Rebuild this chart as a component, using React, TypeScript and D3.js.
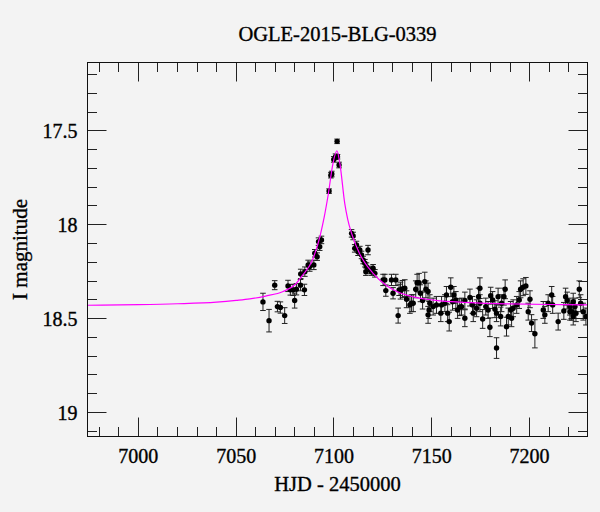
import React from 'react';
import * as d3 from 'd3';

const TITLE = 'OGLE-2015-BLG-0339';
const X_LABEL = 'HJD - 2450000';
const Y_LABEL = 'I magnitude';

const X_MAJOR = [7000, 7050, 7100, 7150, 7200];
const Y_MAJOR = [17.5, 18, 18.5, 19];

// model light curve
const modelHjd = [6974, 7000, 7020, 7040, 7050, 7057, 7065, 7074, 7080, 7084, 7089, 7093, 7095, 7097, 7099.5, 7101.5,
    7103, 7105.5, 7107, 7109, 7113, 7120, 7127, 7133, 7140, 7150, 7160, 7175, 7190, 7210, 7229.6];
const modelMag = [18.429, 18.426, 18.421, 18.412, 18.403, 18.395, 18.38, 18.356, 18.32, 18.268, 18.188, 18.055, 17.96,
    17.843, 17.673, 17.606, 17.673, 17.886, 17.97, 18.046, 18.152, 18.259, 18.325, 18.36, 18.383, 18.4, 18.41, 18.418,
    18.422, 18.425, 18.427];

// [HJD - 2450000, I mag, error]
const observations: [number, number, number][] = [
    [7063.7, 18.411, 0.046], [7066.8, 18.511, 0.06], [7069.7, 18.322, 0.024], [7071.1, 18.436, 0.028],
    [7072.6, 18.441, 0.03], [7074.8, 18.484, 0.042], [7076.5, 18.326, 0.03], [7077.7, 18.347, 0.028],
    [7079.1, 18.347, 0.03], [7079.9, 18.404, 0.04], [7080.8, 18.344, 0.03], [7082.9, 18.322, 0.03],
    [7083.0, 18.262, 0.025], [7084.9, 18.347, 0.03], [7085.1, 18.25, 0.025], [7086.8, 18.214, 0.025],
    [7087.6, 18.223, 0.025], [7089.7, 18.214, 0.025], [7090.2, 18.152, 0.02], [7091.4, 18.17, 0.02],
    [7092.1, 18.09, 0.02], [7092.7, 18.117, 0.02], [7093.6, 18.081, 0.02],
    [7097.5, 17.821, 0.012], [7098.4, 17.736, 0.015], [7098.9, 17.73, 0.015], [7099.9, 17.652, 0.015],
    [7100.8, 17.638, 0.015], [7101.6, 17.556, 0.012], [7101.8, 17.638, 0.012], [7102.6, 17.682, 0.015],
    [7109.0, 18.046, 0.02], [7109.8, 18.06, 0.02], [7110.6, 18.126, 0.02], [7111.5, 18.108, 0.02],
    [7112.3, 18.144, 0.02], [7113.2, 18.135, 0.02], [7114.1, 18.161, 0.02], [7114.9, 18.188, 0.02],
    [7115.8, 18.205, 0.02], [7116.3, 18.25, 0.02], [7116.6, 18.223, 0.02], [7117.4, 18.135, 0.025],
    [7118.3, 18.241, 0.02], [7119.2, 18.25, 0.02], [7120.0, 18.232, 0.02], [7120.9, 18.259, 0.02],
    [7125.1, 18.294, 0.03], [7126.0, 18.294, 0.03], [7126.5, 18.351, 0.03], [7129.4, 18.294, 0.03],
    [7130.2, 18.365, 0.03], [7131.6, 18.294, 0.03], [7132.8, 18.484, 0.04], [7133.3, 18.347, 0.03],
    [7134.0, 18.351, 0.045], [7135.0, 18.342, 0.045], [7136.2, 18.338, 0.045], [7137.1, 18.397, 0.045],
    [7138.8, 18.427, 0.045], [7139.6, 18.418, 0.045], [7140.5, 18.418, 0.045], [7141.8, 18.344, 0.045],
    [7142.5, 18.309, 0.045], [7143.5, 18.309, 0.05], [7144.2, 18.365, 0.045], [7145.3, 18.404, 0.045],
    [7146.4, 18.303, 0.05], [7147.0, 18.344, 0.045], [7148.1, 18.356, 0.045], [7148.1, 18.48, 0.045],
    [7148.6, 18.454, 0.045], [7149.0, 18.418, 0.045], [7150.7, 18.436, 0.045], [7152.4, 18.427, 0.045],
    [7154.6, 18.471, 0.045], [7155.0, 18.427, 0.045], [7156.7, 18.418, 0.045], [7157.5, 18.374, 0.045],
    [7158.1, 18.471, 0.045], [7158.9, 18.516, 0.05], [7159.7, 18.333, 0.05], [7160.6, 18.41, 0.045],
    [7161.3, 18.374, 0.045], [7162.3, 18.401, 0.045], [7163.2, 18.454, 0.045], [7164.3, 18.439, 0.045],
    [7165.2, 18.436, 0.045], [7166.9, 18.498, 0.045], [7166.9, 18.404, 0.045], [7169.5, 18.388, 0.045],
    [7170.8, 18.427, 0.045], [7171.2, 18.471, 0.045], [7172.9, 18.445, 0.045], [7173.9, 18.383, 0.045],
    [7174.6, 18.338, 0.055], [7174.6, 18.418, 0.045], [7176.0, 18.502, 0.05], [7177.6, 18.436, 0.045],
    [7178.8, 18.454, 0.045], [7179.7, 18.546, 0.05], [7180.1, 18.378, 0.045], [7181.1, 18.401, 0.045],
    [7182.3, 18.45, 0.045], [7183.1, 18.657, 0.055], [7183.1, 18.471, 0.045], [7183.9, 18.383, 0.045],
    [7185.2, 18.489, 0.05], [7185.7, 18.418, 0.045], [7186.9, 18.383, 0.045], [7187.5, 18.344, 0.05],
    [7188.2, 18.543, 0.05], [7189.1, 18.489, 0.045], [7190.3, 18.454, 0.045], [7190.8, 18.498, 0.045],
    [7191.6, 18.445, 0.045], [7193.4, 18.427, 0.045], [7194.7, 18.401, 0.045], [7195.4, 18.344, 0.045],
    [7196.7, 18.333, 0.045], [7198.1, 18.326, 0.045], [7199.3, 18.463, 0.045], [7200.2, 18.397, 0.045],
    [7201.0, 18.524, 0.045], [7202.7, 18.581, 0.075], [7207.0, 18.454, 0.045], [7207.8, 18.48, 0.045],
    [7209.5, 18.418, 0.045], [7211.3, 18.374, 0.045], [7211.8, 18.427, 0.045], [7214.6, 18.516, 0.045],
    [7217.5, 18.459, 0.045], [7218.4, 18.383, 0.045], [7219.2, 18.404, 0.045], [7220.6, 18.436, 0.045],
    [7220.6, 18.463, 0.045], [7221.5, 18.463, 0.045], [7222.3, 18.41, 0.045], [7222.3, 18.489, 0.045],
    [7223.2, 18.436, 0.045], [7223.7, 18.471, 0.045], [7225.4, 18.344, 0.045], [7226.1, 18.418, 0.045],
    [7227.4, 18.463, 0.045], [7228.8, 18.489, 0.045],
];

const width = 600;
const height = 512;
const plot = { left: 87.5, right: 587.5, top: 62.5, bottom: 436.5 };
const FONT = '"Liberation Serif", "Times New Roman", serif';

const crisp = (v: number) => Math.round(v - 0.5) + 0.5;

const App: React.FC = () => {
    const x = d3.scaleLinear().domain([6974, 7229.6]).range([plot.left, plot.right]);
    const y = d3.scaleLinear().domain([17.136, 19.128]).range([plot.top, plot.bottom]);

    const xMinor = d3.range(6980, 7221, 10).filter(v => !X_MAJOR.includes(v));
    const yMinor = d3.range(17.2, 19.15, 0.1).map(v => +v.toFixed(1)).filter(v => !Y_MAJOR.includes(v));

    const modelLine = d3.line<number>()
        .x((_, i) => x(modelHjd[i]))
        .y(d => y(d))
        .curve(d3.curveMonotoneX);

    const major = 19;
    const minor = 9.5;
    const textStyle = { fill: '#000', stroke: '#000', strokeWidth: 0.35 };

    return (
        <svg width={width} height={height} style={{ position: 'absolute', left: 0, top: 0, background: '#f3f3f3' }}
            fontFamily={FONT}>
            <defs>
                <clipPath id="plotClip">
                    <rect x={plot.left} y={plot.top} width={plot.right - plot.left} height={plot.bottom - plot.top} />
                </clipPath>
            </defs>

            <text x={(plot.left + plot.right) / 2} y={40.7} textAnchor="middle" fontSize="20.5px" {...textStyle}>{TITLE}</text>

            {/* ticks, all four sides pointing inward */}
            <g stroke="#222" strokeWidth={1}>
                {X_MAJOR.map(v => (
                    <g key={'xM' + v}>
                        <line x1={crisp(x(v))} x2={crisp(x(v))} y1={plot.bottom} y2={plot.bottom - major} />
                        <line x1={crisp(x(v))} x2={crisp(x(v))} y1={plot.top} y2={plot.top + major} />
                    </g>
                ))}
                {xMinor.map(v => (
                    <g key={'xm' + v}>
                        <line x1={crisp(x(v))} x2={crisp(x(v))} y1={plot.bottom} y2={plot.bottom - minor} />
                        <line x1={crisp(x(v))} x2={crisp(x(v))} y1={plot.top} y2={plot.top + minor} />
                    </g>
                ))}
                {Y_MAJOR.map(v => (
                    <g key={'yM' + v}>
                        <line x1={plot.left} x2={plot.left + major} y1={crisp(y(v))} y2={crisp(y(v))} />
                        <line x1={plot.right} x2={plot.right - major} y1={crisp(y(v))} y2={crisp(y(v))} />
                    </g>
                ))}
                {yMinor.map(v => (
                    <g key={'ym' + v}>
                        <line x1={plot.left} x2={plot.left + minor} y1={crisp(y(v))} y2={crisp(y(v))} />
                        <line x1={plot.right} x2={plot.right - minor} y1={crisp(y(v))} y2={crisp(y(v))} />
                    </g>
                ))}
            </g>

            {X_MAJOR.map(v => (
                <text key={'xl' + v} x={x(v)} y={463.3} textAnchor="middle" fontSize="20px" {...textStyle}>{v}</text>
            ))}
            {Y_MAJOR.map(v => (
                <text key={'yl' + v} x={77.5} y={y(v) + 7.5} textAnchor="end" fontSize="20px" {...textStyle}>{String(v)}</text>
            ))}

            <text x={(plot.left + plot.right) / 2} y={490.7} textAnchor="middle" fontSize="20.5px" {...textStyle}>{X_LABEL}</text>
            <text transform={`translate(26.5, ${(plot.top + plot.bottom) / 2}) rotate(-90)`} textAnchor="middle"
                fontSize="21px" {...textStyle}>{Y_LABEL}</text>

            <g clipPath="url(#plotClip)">
                <g stroke="#222" strokeWidth={1}>
                    {observations.map(([t, m, e], i) => {
                        const cx = x(t);
                        return (
                            <g key={'e' + i}>
                                <line x1={cx} x2={cx} y1={y(m - e)} y2={y(m + e)} />
                                <line x1={cx - 2.8} x2={cx + 2.8} y1={y(m - e)} y2={y(m - e)} />
                                <line x1={cx - 2.8} x2={cx + 2.8} y1={y(m + e)} y2={y(m + e)} />
                            </g>
                        );
                    })}
                </g>
                {observations.map(([t, m], i) => (
                    <circle key={'p' + i} cx={x(t)} cy={y(m)} r={2.7} fill="#000" />
                ))}
                <path d={modelLine(modelMag) || ''} fill="none" stroke="#ff00ff" strokeWidth={1.2} />
            </g>

            <rect x={plot.left} y={plot.top} width={plot.right - plot.left} height={plot.bottom - plot.top}
                fill="none" stroke="#111" strokeWidth={1} />
        </svg>
    );
};

export default App;
